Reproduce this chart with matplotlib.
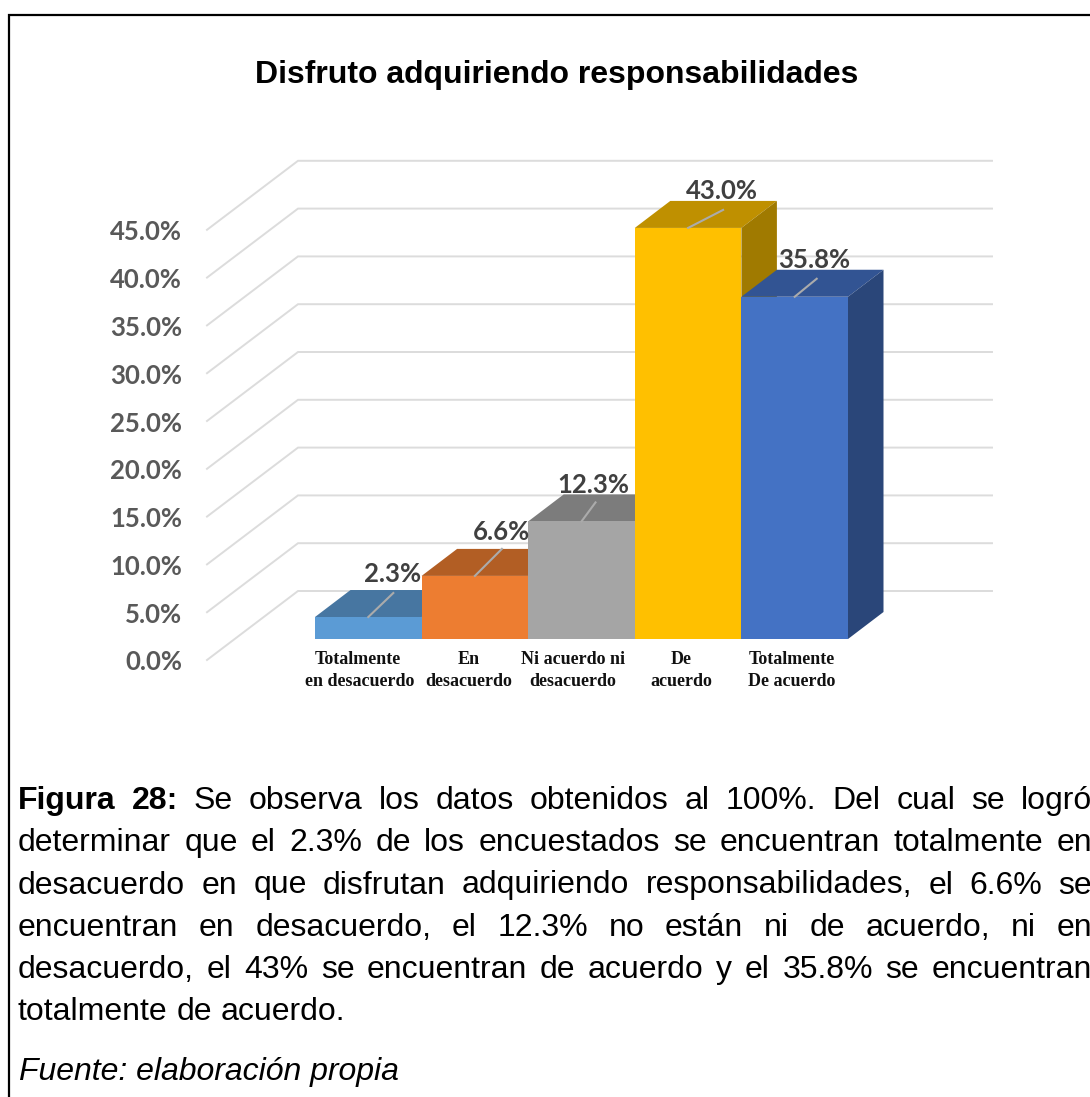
import numpy as np
import matplotlib
matplotlib.use('Agg')
import matplotlib.pyplot as plt
from matplotlib.patches import Polygon

# Datos
categorias = [['Totalmente', 'en desacuerdo'], ['En', 'desacuerdo'], ['Ni acuerdo ni', 'desacuerdo'],
              ['De', 'acuerdo'], ['Totalmente', 'De acuerdo']]
valores = [2.3, 6.6, 12.3, 43.0, 35.8]
ticks = [0, 5, 10, 15, 20, 25, 30, 35, 40, 45]
titulo = 'Disfruto adquiriendo responsabilidades'
fuente = 'Fuente: elaboración propia'
parrafo = [
    'Figura 28: Se observa los datos obtenidos al 100%. Del cual se logró',
    'determinar que el 2.3% de los encuestados se encuentran totalmente en',
    'desacuerdo en que disfrutan adquiriendo responsabilidades, el 6.6% se',
    'encuentran en desacuerdo, el 12.3% no están ni de acuerdo, ni en',
    'desacuerdo, el 43% se encuentran de acuerdo y el 35.8% se encuentran',
    'totalmente de acuerdo.',
]

# Colores: frente, tapa, lateral
frente = ['#5B9BD5', '#ED7D31', '#A5A5A5', '#FFC000', '#4472C4']
tapa = ['#4776A1', '#B25E24', '#7C7C7C', '#BF9000', '#325493']
lateral = ['#3A6288', '#96501E', '#696969', '#A07A00', '#2A4679']

W, H = 1090, 1097
fig = plt.figure(figsize=(W / 100, H / 100), dpi=100, facecolor='white')

# Ejes: x en categorias, y en porcentaje, ocupando toda la figura
ax = fig.add_axes([0, 0, 1, 1])
px_x, px_y = 106.6, 9.56  # pixeles por unidad
ax.set_xlim(-315 / px_x, (W - 315) / px_x)
ax.set_ylim((639 - H) / px_y, 639 / px_y)
ax.axis('off')


def pos_x(px):
    return (px - 315) / px_x


def pos_y(py):
    return (639 - py) / px_y


def texto(x, y, s, **kw):
    return fig.text(x / W, 1 - y / H, s, **kw)


# Marco
ax.plot([pos_x(9), pos_x(9), pos_x(W)], [pos_y(H), pos_y(15), pos_y(15)], color='black', lw=1.6, solid_joinstyle='miter', zorder=1)

# Paredes y rejilla
dx_pared, dy_pared = 91 / px_x, 69 / px_y
x_ini = pos_x(207)
x_fin = pos_x(992)
y_ini = -21 / px_y
for t in ticks:
    ax.plot([x_ini, x_ini + dx_pared, x_fin], [t + y_ini, t + y_ini + dy_pared, t + y_ini + dy_pared],
            color='#DCDCDC', lw=1.4, solid_joinstyle='miter', zorder=2)
    texto(182, 662.5 - t * px_y, f'{t:.1f}%', ha='right', va='center', family='Lato', weight='bold',
          fontsize=18.5, color='#595959', zorder=10)

# Barras con profundidad
dx_barra, dy_barra = 35.5 / px_x, 27 / px_y
for i, v in enumerate(valores):
    z = 3 + i
    ax.add_patch(Polygon([(i, v), (i + 1, v), (i + 1 + dx_barra, v + dy_barra), (i + dx_barra, v + dy_barra)],
                         facecolor=tapa[i], edgecolor='none', zorder=z))
    ax.add_patch(Polygon([(i + 1, 0), (i + 1 + dx_barra, dy_barra), (i + 1 + dx_barra, v + dy_barra), (i + 1, v)],
                         facecolor=lateral[i], edgecolor='none', zorder=z))
    ax.add_patch(Polygon([(i, 0), (i + 1, 0), (i + 1, v), (i, v)], facecolor=frente[i], edgecolor='none', zorder=z + 0.5))

# Lineas guia de las etiquetas
guia_dx = [25, 27, 14, 35, 22]
guia_dy = [24, 27, 19, 18, 18]
for i, v in enumerate(valores):
    xm = i + 0.5
    ax.plot([xm, xm + guia_dx[i] / px_x], [v, v + guia_dy[i] / px_y], color='#ABABAB', lw=1.5, zorder=3 + i + 0.7)

# Etiquetas de datos
etq_x = [393, 502, 593, 722, 814]
etq_y = [574, 532, 485, 191, 260]
for x, y, v in zip(etq_x, etq_y, valores):
    texto(x, y, f'{v:.1f}%', ha='center', va='center', family='Lato', weight='bold', fontsize=18.5, color='#404040', zorder=10)

# Etiquetas de categorias
cat_x = [358, 469, 573, 681, 792]
for x, lineas in zip(cat_x, categorias):
    texto(x, 660, lineas[0], ha='center', va='center', family='Liberation Serif', weight='bold', fontsize=13, color='#111111')
    texto(x + (2 if x == 358 else 0), 682, lineas[1], ha='center', va='center', family='Liberation Serif', weight='bold', fontsize=13, color='#111111')

# Titulo
texto(557, 75, titulo, ha='center', va='center', family='Liberation Sans', weight='bold', fontsize=23, color='black')

# Parrafo justificado
renderer = fig.canvas.get_renderer()
x_izq, x_der = 18, 1092
lineas_y = [808.7, 851, 893.5, 935.7, 978, 1020]
for n, (linea, y) in enumerate(zip(parrafo, lineas_y)):
    palabras = linea.split(' ')
    piezas = []
    for k, p in enumerate(palabras):
        peso = 'bold' if n == 0 and k < 2 else 'normal'
        piezas.append(texto(0, y, p, ha='left', va='baseline', family='Liberation Sans', weight=peso, fontsize=23, color='black'))
    anchos = [t.get_window_extent(renderer).width for t in piezas]
    if n < len(parrafo) - 1:
        hueco = (x_der - x_izq - sum(anchos)) / (len(palabras) - 1)
    else:
        hueco = 9
    x = x_izq
    for t, a in zip(piezas, anchos):
        t.set_x(x / W)
        x += a + hueco

texto(19, 1080, fuente, ha='left', va='baseline', family='Liberation Sans', style='italic', fontsize=23, color='black')

fig.savefig('out.png', dpi=100)
